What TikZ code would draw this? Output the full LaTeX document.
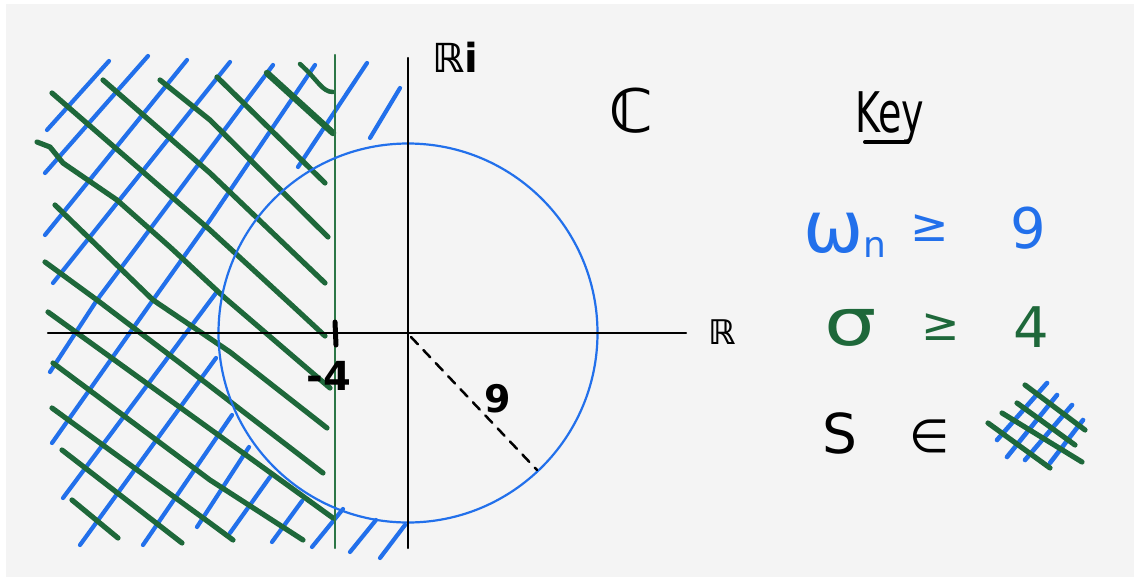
\documentclass[tikz,border=0pt]{standalone}
\usepackage{fontspec}
\setmainfont{DejaVu Sans}
\usetikzlibrary{calc}
\definecolor{hblue}{RGB}{34,112,235}
\definecolor{hgreen}{RGB}{30,104,58}
\definecolor{vgreen}{RGB}{44,118,70}
\definecolor{bggray}{RGB}{244,244,244}
\newcommand{\hsz}[1]{\fontsize{#1}{#1}\selectfont}
\begin{document}
\begin{tikzpicture}[x=1pt,y=-1pt,line cap=round,line join=round,
  bh/.style={draw=hblue,line width=4.2pt},
  gh/.style={draw=hgreen,line width=5.2pt},
  axisline/.style={draw=black,line width=2.4pt},
  lbl/.style={inner sep=0pt,outer sep=0pt}]
\useasboundingbox (0,0) rectangle (1140,578);
\fill[white] (0,0) rectangle (1140,578);
\fill[bggray] (6,4) rectangle (1134,577);
% coordinates
\coordinate (O) at (408,333);
\coordinate (xl) at (48,333);
\coordinate (xr) at (686,333);
\coordinate (yt) at (408,58);
\coordinate (yb) at (408,548);
\coordinate (gt) at (335,55);
\coordinate (gb) at (335,548);
\coordinate (tk1) at (335,322);
\coordinate (tk2) at (336,345);
\coordinate (rd) at (537,470);
\coordinate (ro) at (411,337);
% blue hatching
\draw[bh] (47,130)--(109,61);
\draw[bh] (45,173)--(148,56);
\draw[bh] (45,235)--(187,60);
\draw[bh] (53,283)--(230,62);
\draw[bh] (50,372)--(97,300)--(273,65);
\draw[bh] (52,443)--(153,300)--(210,220)--(315,65);
\draw[bh] (298,167)--(367,63);
\draw[bh] (370,138)--(400,88);
\draw[bh] (63,498)--(216,293);
\draw[bh] (80,545)--(216,358);
\draw[bh] (143,545)--(232,415);
\draw[bh] (197,527)--(249,447);
\draw[bh] (230,533)--(270,477);
\draw[bh] (272,542)--(302,501);
\draw[bh] (312,547)--(343,509);
\draw[bh] (350,552)--(376,520);
\draw[bh] (380,558)--(405,525);
% green hatching
\draw[gh] (217,77)--(325,183);
\draw[gh,line width=6.5pt] (267,73)--(333,133);
\draw[gh,line width=4.5pt] (300,64) .. controls (318,80) and (322,92) .. (333,92);
\draw[gh] (160,80)--(210,120)--(328,237);
\draw[gh] (103,80)--(210,173)--(325,283);
\draw[gh] (52,93)--(210,230)--(297,310)--(325,336);
\draw[gh] (37,142)--(50,147)--(63,163)--(117,200)--(170,247)--(225,298)--(330,388);
\draw[gh] (55,205)--(153,300)--(230,352)--(327,428);
\draw[gh] (45,262)--(97,300)--(180,363)--(323,473);
\draw[gh] (48,312)--(210,429)--(333,518);
\draw[gh] (53,363)--(210,480)--(303,540);
\draw[gh] (52,408)--(210,523)--(233,540);
\draw[gh] (62,450)--(182,543);
\draw[gh] (72,500)--(118,538);
% sigma boundary line
\draw[draw=vgreen,line width=2.2pt] (gt)--(gb);
% circle
\draw[draw=hblue,line width=2.2pt] (O) circle[radius=189.5];
% axes
\draw[axisline] (xl)--(xr);
\draw[axisline] (yt)--(yb);
\draw[line width=5pt] (tk1)--(tk2);
\draw[line width=2.5pt,dash pattern=on 10pt off 8pt] (ro)--(rd);
% labels
\node[lbl,anchor=base west,font=\hsz{40}\bfseries] (ri) at (432,72) {ℝi};
\node[lbl,font=\hsz{60}\bfseries] (cc) at (632,111) {ℂ};
\node[lbl,font=\hsz{34}\bfseries] (rr) at (722,332) {ℝ};
\node[lbl,font=\hsz{40}\bfseries] (m4) at (329,376) {-4};
\node[lbl,font=\hsz{38}\bfseries] (r9) at (498,399) {9};
% key
\node[lbl,anchor=base west] (key) at (855,132) {\scalebox{0.68}[1]{\hsz{56}Key}};
\draw[line width=4pt] ($(key.base west)+(10,10)$)--($(key.base west)+(53,10)$);
\node[lbl,anchor=base west,text=hblue] (wn) at (803,252) {\hsz{72}ω\raisebox{-5pt}{\hsz{36}n}};
\node[lbl,text=hblue,font=\hsz{46}] (ge1) at (930,228) {≥};
\node[lbl,text=hblue,font=\hsz{56}] (n9) at (1028,228) {9};
\node[lbl,anchor=base west,text=hgreen] (sg) at (824,345) {\scalebox{1.25}[1]{\hsz{66}σ}};
\node[lbl,text=hgreen,font=\hsz{46}] (ge2) at (941,327) {≥};
\node[lbl,text=hgreen,font=\hsz{56}] (n4) at (1031,327) {4};
\node[lbl,font=\hsz{55}] (ss) at (840,433) {S};
\node[lbl,font=\hsz{46}] (in) at (930,436) {∈};
% key hatch patch
\draw[bh,line width=4.6pt] (997,440)--(1047,383);
\draw[bh,line width=4.6pt] (1007,457)--(1057,395);
\draw[bh,line width=4.6pt] (1025,460)--(1072,405);
\draw[bh,line width=4.6pt] (1050,463)--(1083,420);
\draw[gh,line width=5.2pt] (1025,385)--(1085,430);
\draw[gh,line width=5.2pt] (1017,403)--(1075,445);
\draw[gh,line width=5.2pt] (1002,413)--(1082,462);
\draw[gh,line width=5.2pt] (988,423)--(1050,468);
\end{tikzpicture}
\end{document}
